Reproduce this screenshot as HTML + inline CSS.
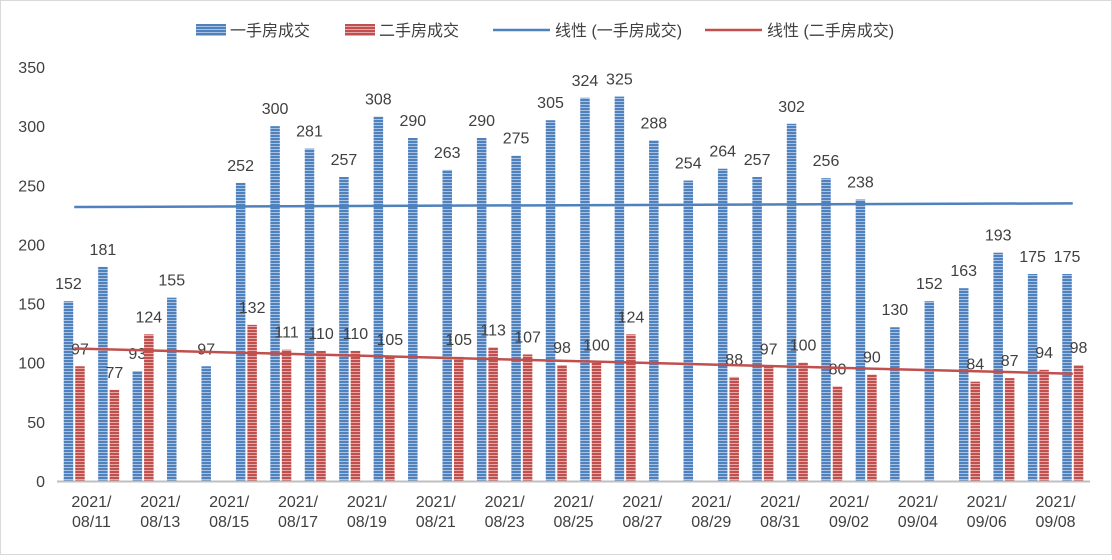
<!DOCTYPE html>
<html><head><meta charset="utf-8"><style>
body{margin:0;background:#fff;}
svg text{font-family:"Liberation Sans","Noto Sans CJK SC",sans-serif;fill:#404040;}
</style></head><body>
<svg width="1112" height="555">
<defs>
<pattern id="pb" width="4" height="3" patternUnits="userSpaceOnUse"><rect width="4" height="3" fill="#4f81bd"/><rect y="2" width="4" height="1" fill="#a9c2e3"/></pattern>
<pattern id="pr" width="4" height="3" patternUnits="userSpaceOnUse"><rect width="4" height="3" fill="#c0504d"/><rect y="2" width="4" height="1" fill="#e6a9a7"/></pattern>
</defs>
<rect x="0.5" y="0.5" width="1111" height="554" fill="#fff" stroke="#d9d9d9"/>
<g>
<rect x="196" y="24" width="30" height="12" fill="url(#pb)"/>
<text x="230" y="36" font-size="16">一手房成交</text>
<rect x="345" y="24" width="30" height="12" fill="url(#pr)"/>
<text x="379" y="36" font-size="16">二手房成交</text>
<line x1="493" y1="30" x2="550" y2="30" stroke="#4f81bd" stroke-width="2.5"/>
<text x="555" y="36" font-size="16">线性 (一手房成交)</text>
<line x1="705" y1="30" x2="762" y2="30" stroke="#c0504d" stroke-width="2.5"/>
<text x="767" y="36" font-size="16">线性 (二手房成交)</text>
</g>
<g id="plot"></g>
</svg>
<script>
const categories=["2021/08/11","2021/08/12","2021/08/13","2021/08/14","2021/08/15","2021/08/16","2021/08/17","2021/08/18","2021/08/19","2021/08/20","2021/08/21","2021/08/22","2021/08/23","2021/08/24","2021/08/25","2021/08/26","2021/08/27","2021/08/28","2021/08/29","2021/08/30","2021/08/31","2021/09/01","2021/09/02","2021/09/03","2021/09/04","2021/09/05","2021/09/06","2021/09/07","2021/09/08","2021/09/09"];
const newHomes=[152,181,93,155,97,252,300,281,257,308,290,263,290,275,305,324,325,288,254,264,257,302,256,238,130,152,163,193,175,175];
const usedHomes=[97,77,124,null,null,132,111,110,110,105,null,105,113,107,98,100,124,null,null,88,97,100,80,90,null,null,84,87,94,98];
const yTicks=[0,50,100,150,200,250,300,350];
const NS="http://www.w3.org/2000/svg";
const g=document.getElementById('plot');
const X0=57,X1=1090,Y0=481,Y1=67,YMAX=350;
const step=(X1-X0)/categories.length;
const xc=i=>X0+step*(i+0.5);
const y=v=>Y0-(v/YMAX)*(Y0-Y1);
function mk(tag,attrs){const e=document.createElementNS(NS,tag);for(const k in attrs)e.setAttribute(k,attrs[k]);g.appendChild(e);return e;}
yTicks.forEach(t=>{const e=mk('text',{x:45,y:y(t)+6,'font-size':16,'text-anchor':'end'});e.textContent=t;

});
const bw=9.5;
function bars(arr,off,fill,name){arr.forEach((v,i)=>{if(v==null)return;const x=xc(i)+off;
const r=mk('rect',{x:x,y:y(v),width:bw,height:Y0-y(v),fill:fill});


const t=mk('text',{x:x+bw/2,y:y(v)-12,'font-size':16,'text-anchor':'middle'});t.textContent=v;

});}
bars(newHomes,-10.5,'url(#pb)','new-homes');
bars(usedHomes,1,'url(#pr)','used-homes');
const base=mk('line',{x1:X0,y1:Y0+0.5,x2:X1,y2:Y0+0.5,stroke:'#bfbfbf','stroke-width':2});


function trend(arr,color,name){const pts=[];arr.forEach((v,i)=>{if(v!=null)pts.push([i+1,v]);});
const n=pts.length,mx=pts.reduce((s,p)=>s+p[0],0)/n,my=pts.reduce((s,p)=>s+p[1],0)/n;
let num=0,den=0;pts.forEach(p=>{num+=(p[0]-mx)*(p[1]-my);den+=(p[0]-mx)**2;});
const b=num/den,a=my-b*mx;
const l=mk('line',{x1:xc(0),y1:y(a+b),x2:xc(categories.length-1),y2:y(a+b*categories.length),stroke:color,'stroke-width':2.5});

}
trend(newHomes,'#4f81bd','trend-new-homes');
trend(usedHomes,'#c0504d','trend-used-homes');
categories.forEach((c,i)=>{if(i%2)return;const x=xc(i)+step/2;
const t=mk('text',{x:x,y:507,'font-size':16,'text-anchor':'middle'});


const p=c.split('/');
const s1=document.createElementNS(NS,'tspan');s1.setAttribute('x',x);s1.textContent=p[0]+'/';t.appendChild(s1);
const s2=document.createElementNS(NS,'tspan');s2.setAttribute('x',x);s2.setAttribute('dy',20);s2.textContent=p[1]+'/'+p[2];t.appendChild(s2);});
</script>
</body></html>
